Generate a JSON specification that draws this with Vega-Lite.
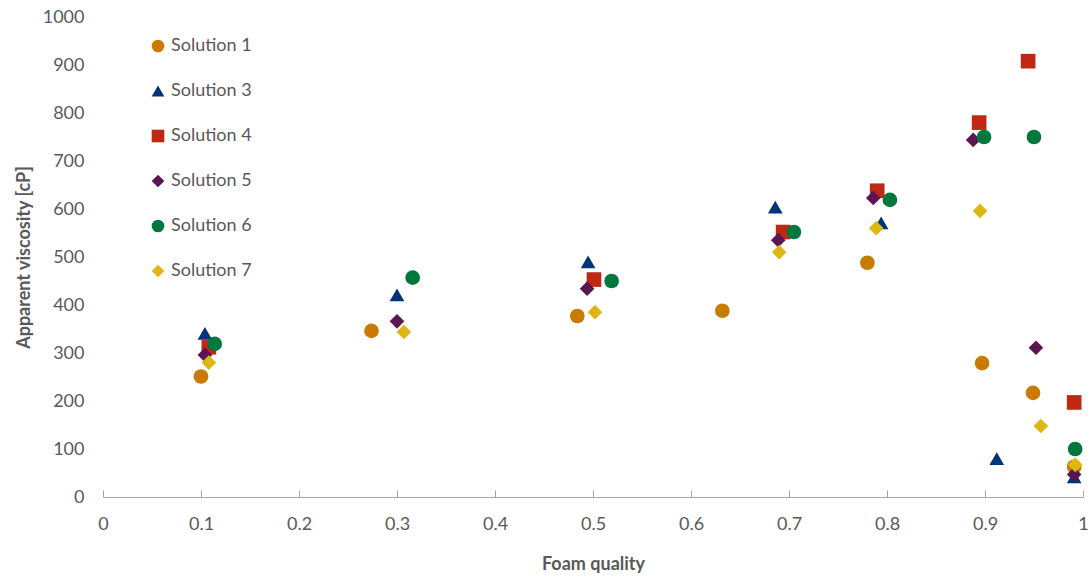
{
  "$schema": "https://vega.github.io/schema/vega-lite/v6.json",
  "autosize": {"type": "none"},
  "padding": {"left": 103, "top": 17, "right": 7, "bottom": 82},
  "width": 980,
  "height": 480,
  "background": "white",
  "config": {
    "view": {"stroke": null},
    "font": "Lato",
    "axis": {"grid": false, "labelColor": "#595959", "titleColor": "#595959", "labelFont": "Lato", "titleFont": "Lato"}
  },
  "data": {
    "values": [
      {"q": 0.100, "visc": 251, "solution": "Solution 1"},
      {"q": 0.274, "visc": 346, "solution": "Solution 1"},
      {"q": 0.484, "visc": 377, "solution": "Solution 1"},
      {"q": 0.632, "visc": 388, "solution": "Solution 1"},
      {"q": 0.780, "visc": 488, "solution": "Solution 1"},
      {"q": 0.897, "visc": 279, "solution": "Solution 1"},
      {"q": 0.949, "visc": 217, "solution": "Solution 1"},
      {"q": 0.991, "visc": 63, "solution": "Solution 1"},

      {"q": 0.104, "visc": 341, "solution": "Solution 3"},
      {"q": 0.300, "visc": 421, "solution": "Solution 3"},
      {"q": 0.495, "visc": 490, "solution": "Solution 3"},
      {"q": 0.686, "visc": 604, "solution": "Solution 3"},
      {"q": 0.794, "visc": 571, "solution": "Solution 3"},
      {"q": 0.912, "visc": 80, "solution": "Solution 3"},
      {"q": 0.991, "visc": 42, "solution": "Solution 3"},

      {"q": 0.108, "visc": 312, "solution": "Solution 4"},
      {"q": 0.501, "visc": 453, "solution": "Solution 4"},
      {"q": 0.694, "visc": 552, "solution": "Solution 4"},
      {"q": 0.790, "visc": 638, "solution": "Solution 4"},
      {"q": 0.894, "visc": 780, "solution": "Solution 4"},
      {"q": 0.944, "visc": 908, "solution": "Solution 4"},
      {"q": 0.991, "visc": 197, "solution": "Solution 4"},

      {"q": 0.104, "visc": 296, "solution": "Solution 5"},
      {"q": 0.300, "visc": 366, "solution": "Solution 5"},
      {"q": 0.494, "visc": 434, "solution": "Solution 5"},
      {"q": 0.689, "visc": 535, "solution": "Solution 5"},
      {"q": 0.786, "visc": 623, "solution": "Solution 5"},
      {"q": 0.888, "visc": 744, "solution": "Solution 5"},
      {"q": 0.952, "visc": 311, "solution": "Solution 5"},
      {"q": 0.991, "visc": 47, "solution": "Solution 5"},

      {"q": 0.114, "visc": 319, "solution": "Solution 6"},
      {"q": 0.316, "visc": 457, "solution": "Solution 6"},
      {"q": 0.519, "visc": 450, "solution": "Solution 6"},
      {"q": 0.705, "visc": 552, "solution": "Solution 6"},
      {"q": 0.803, "visc": 619, "solution": "Solution 6"},
      {"q": 0.899, "visc": 750, "solution": "Solution 6"},
      {"q": 0.950, "visc": 750, "solution": "Solution 6"},
      {"q": 0.992, "visc": 100, "solution": "Solution 6"},

      {"q": 0.108, "visc": 280, "solution": "Solution 7"},
      {"q": 0.307, "visc": 344, "solution": "Solution 7"},
      {"q": 0.502, "visc": 385, "solution": "Solution 7"},
      {"q": 0.690, "visc": 510, "solution": "Solution 7"},
      {"q": 0.789, "visc": 560, "solution": "Solution 7"},
      {"q": 0.895, "visc": 596, "solution": "Solution 7"},
      {"q": 0.957, "visc": 148, "solution": "Solution 7"},
      {"q": 0.992, "visc": 67, "solution": "Solution 7"}
    ]
  },
  "mark": {"type": "point", "filled": true, "opacity": 1, "size": 215},
  "encoding": {
    "x": {
      "field": "q",
      "type": "quantitative",
      "title": "Foam quality",
      "scale": {"domain": [0, 1], "nice": false, "zero": true},
      "axis": {
        "values": [0, 0.1, 0.2, 0.3, 0.4, 0.5, 0.6, 0.7, 0.8, 0.9, 1],
        "format": "~g",
        "labelFlush": false,
        "domainColor": "#a6a6a6",
        "tickColor": "#a6a6a6",
        "tickSize": -7,
        "labelPadding": 25,
        "labelFontSize": 18,
        "titleFontSize": 18,
        "titleFontWeight": "bold",
        "titlePadding": 22
      }
    },
    "y": {
      "field": "visc",
      "type": "quantitative",
      "title": "Apparent viscosity [cP]",
      "scale": {"domain": [0, 1000], "nice": false},
      "axis": {
        "values": [0, 100, 200, 300, 400, 500, 600, 700, 800, 900, 1000],
        "format": "d",
        "domain": false,
        "ticks": false,
        "labelPadding": 19,
        "labelFontSize": 18,
        "titleFontSize": 18,
        "titleFontWeight": "bold",
        "titlePadding": 9
      }
    },
    "color": {
      "field": "solution",
      "type": "nominal",
      "title": null,
      "scale": {
        "domain": ["Solution 1", "Solution 3", "Solution 4", "Solution 5", "Solution 6", "Solution 7"],
        "range": ["#c97a00", "#003478", "#bf2812", "#5b1553", "#00773d", "#dfb714"]
      },
      "legend": {
        "orient": "none",
        "legendX": 46,
        "legendY": 20,
        "labelFontSize": 18,
        "labelColor": "#595959",
        "symbolSize": 160,
        "rowPadding": 27,
        "labelOffset": 4
      }
    },
    "shape": {
      "field": "solution",
      "type": "nominal",
      "title": null,
      "scale": {
        "domain": ["Solution 1", "Solution 3", "Solution 4", "Solution 5", "Solution 6", "Solution 7"],
        "range": ["circle", "triangle-up", "square", "diamond", "circle", "diamond"]
      }
    }
  }
}
